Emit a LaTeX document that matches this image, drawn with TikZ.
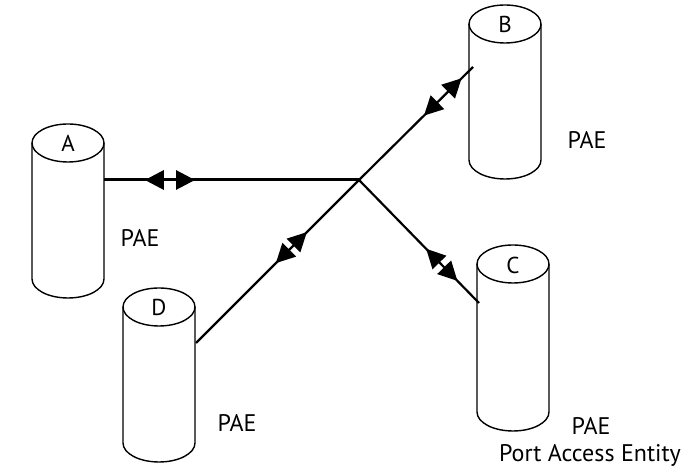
\documentclass[tikz,border=0pt]{standalone}
\usepackage{fontspec}
\setmainfont{PT Sans}
\usetikzlibrary{arrows.meta}
\tikzset{
  cyl/.style={line width=1.4pt},
  letter/.style={font=\fontsize{23}{26}\selectfont, inner sep=0pt},
  lbl/.style={font=\fontsize{24}{27}\selectfont, inner sep=0pt, align=center},
  link/.style={line width=2.2pt},
  tip/.style={line width=2pt,-{Triangle[length=19pt,width=19pt]}},
}
\newcommand\drawcyl[3]{% cx, ytop, ybot
  \draw[cyl] (#1-36,#2) -- (#1-36,#3) arc[start angle=180,end angle=360,x radius=36,y radius=19] -- (#1+36,#2);
  \draw[cyl] (#1,#2) ellipse [x radius=36,y radius=19];
}
\begin{document}
\begin{tikzpicture}[x=1pt,y=1pt]
\useasboundingbox (0,0) rectangle (696,473);
\fill[white] (0,0) rectangle (696,473);
% cylinders
\drawcyl{68}{330}{194}
\drawcyl{505}{449}{313}
\drawcyl{513}{209}{61}
\drawcyl{159}{166}{30}
\node[letter] (A) at (68,330) {A};
\node[letter] (B) at (505,449) {B};
\node[letter] (C) at (513,208) {C};
\node[letter] (D) at (159,166) {D};
% ports and hub
\coordinate (hub) at (359,293);
\coordinate (pa) at (104,293);
\coordinate (pb) at (473,406);
\coordinate (pc) at (479,170);
\coordinate (pd) at (196,130);
% links
\draw[line width=3pt] (pa) -- (hub);
\draw[link] (pb) -- (hub);
\draw[link] (pc) -- (hub);
\draw[link] (pd) -- (hub);
% arrowheads
\path (pa) -- coordinate[pos=0.235] (a1) coordinate[pos=0.16] (a1t) coordinate[pos=0.282] (a2) coordinate[pos=0.357] (a2t) (hub);
\draw[tip,line width=3pt] (a1) -- (a1t);
\draw[tip,line width=3pt] (a2) -- (a2t);
\path (pb) -- coordinate[pos=0.218] (b1) coordinate[pos=0.10] (b1t) coordinate[pos=0.312] (b2) coordinate[pos=0.43] (b2t) (hub);
\draw[tip] (b1) -- (b1t);
\draw[tip] (b2) -- (b2t);
\path (pc) -- coordinate[pos=0.29] (c1) coordinate[pos=0.18] (c1t) coordinate[pos=0.33] (c2) coordinate[pos=0.44] (c2t) (hub);
\draw[tip] (c1) -- (c1t);
\draw[tip] (c2) -- (c2t);
\path (pd) -- coordinate[pos=0.573] (d1) coordinate[pos=0.49] (d1t) coordinate[pos=0.597] (d2) coordinate[pos=0.68] (d2t) (hub);
\draw[tip] (d1) -- (d1t);
\draw[tip] (d2) -- (d2t);
% labels
\node[lbl] (la) at (140,235) {PAE};
\node[lbl] (lb) at (587,333) {PAE};
\node[lbl] (ld) at (237,50) {PAE};
\node[lbl] (lc) at (591,47) {PAE};
\node[lbl,anchor=base] (lc2) at (590,11) {Port Access Entity};
\end{tikzpicture}
\end{document}
